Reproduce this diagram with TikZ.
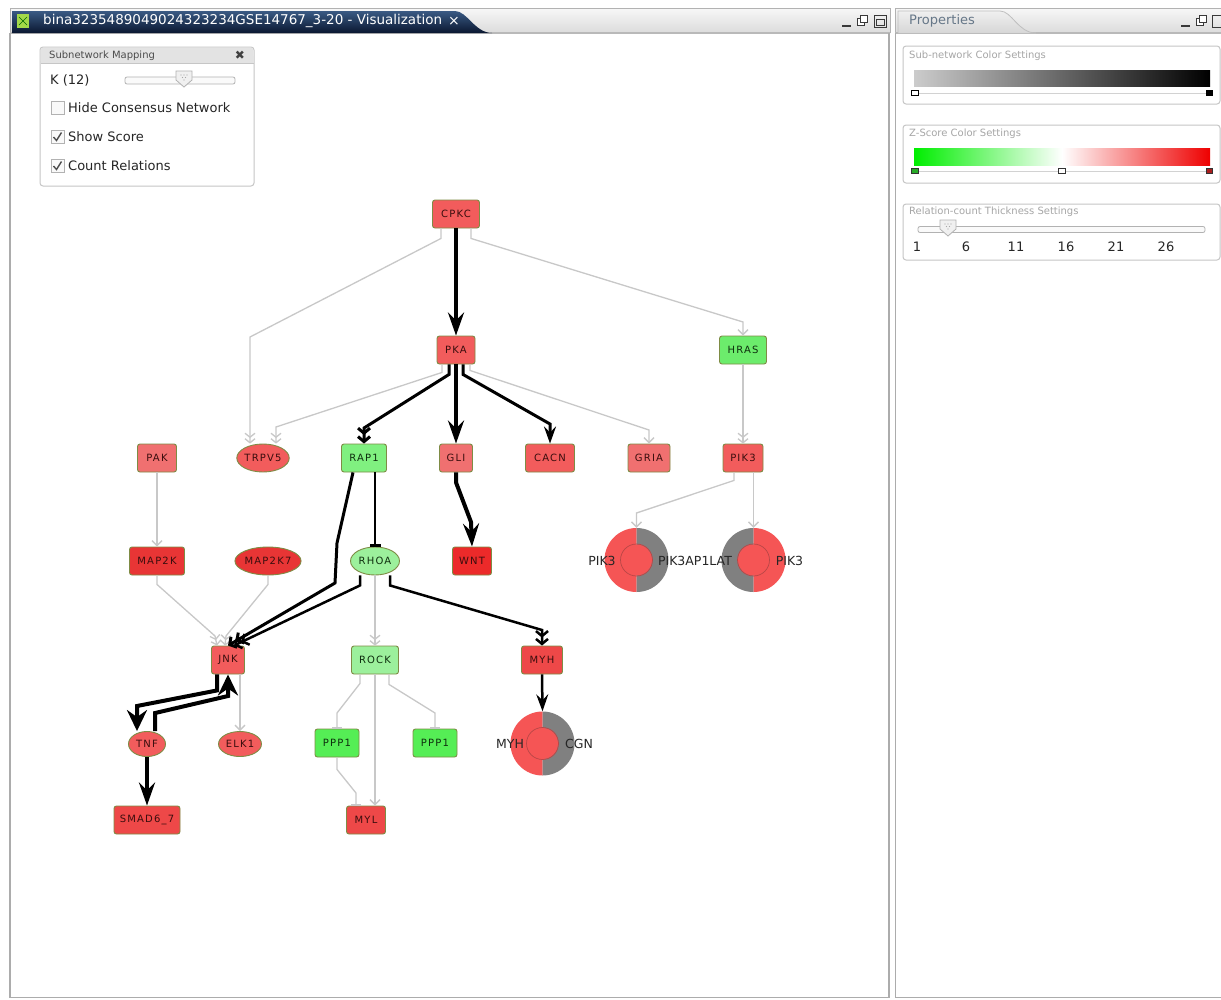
\documentclass[tikz,border=0pt]{standalone}
\usepackage{fontspec}
\setmainfont{DejaVu Sans}
\newfontfamily\nodefam[LetterSpace=12]{DejaVu Sans}
\usetikzlibrary{arrows.meta,shapes.geometric}
\definecolor{nred}{HTML}{F25C5C}
\definecolor{nlred}{HTML}{F07070}
\definecolor{nbred}{HTML}{E83535}
\definecolor{nsred}{HTML}{EE4848}
\definecolor{nwred}{HTML}{EC2A2A}
\definecolor{ngreen}{HTML}{6CEC6C}
\definecolor{nrgreen}{HTML}{80F080}
\definecolor{nlgreen}{HTML}{9CF09C}
\definecolor{nbgreen}{HTML}{55EE55}
\definecolor{nborder}{HTML}{7E8C45}
\definecolor{ntext}{HTML}{3A0E0E}
\definecolor{gtext}{HTML}{0E2E0E}
\definecolor{gline}{HTML}{C8C8C8}
\definecolor{cgray}{HTML}{808080}
\definecolor{cred}{HTML}{F55555}
\definecolor{tabtop}{HTML}{3A5A84}
\definecolor{tabbot}{HTML}{0A1730}
\definecolor{proptext}{HTML}{667788}
\newcommand\cplx[5]{%
  \node[circle, minimum size=64pt, inner sep=0pt] (#1) at (#2,#3) {};
  \begin{scope}\clip (#2-33,#3-33) rectangle (#2,#3+33);
    \fill[#4] (#1.center) circle[radius=32pt];\end{scope}
  \begin{scope}\clip (#2,#3-33) rectangle (#2+33,#3+33);
    \fill[#5] (#1.center) circle[radius=32pt];\end{scope}
  \fill[cred] (#1.center) circle[radius=15.5pt];
  \draw[gray!55!red, line width=0.7pt] (#1.center) circle[radius=16pt];
}
\newcommand\shield[2]{%
  \draw[fill=gray!12, draw=gray!60, line width=0.8pt] (#1-8,#2-8) -- (#1+8,#2-8) -- (#1+8,#2+1) -- (#1,#2+8) -- (#1-8,#2+1) -- cycle;
  \foreach \dx/\dy in {-3/-4,0/-4,3/-4,-1.5/-1.5,1.5/-1.5,0/1}{\fill[gray!70] (#1+\dx,#2+\dy) circle[radius=0.6pt];}
}
\tikzset{
  gchev/.tip={Straight Barb[length=5pt,width=10pt]},
  gdchev/.tip={Straight Barb[length=4pt,width=10pt] Straight Barb[length=4pt,width=10pt]},
  gbar/.tip={Bar[width=10pt]},
  bstl/.tip={Stealth[length=23pt,width=16pt,inset=8pt]},
  tstl/.tip={Stealth[length=21pt,width=20pt,inset=7pt]},
  mstl/.tip={Stealth[length=17pt,width=12pt,inset=6pt]},
  bdchev/.tip={Straight Barb[length=5pt,width=12pt] Straight Barb[length=5pt,width=12pt]},
  bbar/.tip={Bar[width=11pt]},
  nd/.style={rectangle, rounded corners=2.5pt, draw=nborder, line width=0.9pt,
    minimum height=28pt, inner sep=0pt, text=ntext,
    font=\nodefam\fontsize{10}{11}\selectfont},
  el/.style={ellipse, draw=nborder, line width=0.9pt, minimum height=28pt,
    inner sep=0pt, text=ntext, font=\nodefam\fontsize{10}{11}\selectfont},
  gn/.style={text=gtext},
  gedge/.style={draw=gline, line width=1.3pt},
  bedge/.style={draw=black, line width=#1},
  clabel/.style={font=\fontsize{12.5}{13}\selectfont, text=black!85, inner sep=0pt},
  ptext/.style={font=\fontsize{13}{14}\selectfont, text=black!85, inner sep=0pt, anchor=west},
  cbox/.style={rectangle, draw=gray!60, fill=gray!5, minimum size=13pt, inner sep=0pt, line width=0.8pt},
  plabel/.style={font=\fontsize{10}{11}\selectfont, text=gray!70, inner sep=0pt, anchor=west},
  panel/.style={draw=gray!45, line width=1pt, rounded corners=3pt, fill=white},
}
\begin{document}
\begin{tikzpicture}[x=1pt,y=-1pt]
\useasboundingbox (0,0) rectangle (1221,999);
\fill[white] (0,0) rectangle (1221,999);

% ---------- window chrome ----------
\shade[top color=gray!6, bottom color=gray!28] (10,8) rectangle (890,33);
\draw[gray!60, line width=1pt] (10,33) -- (10,8) -- (890,8) -- (890,33);
\draw[gray!55, line width=1.2pt] (10,33) -- (890,33);
\shade[top color=tabtop, bottom color=tabbot] (12,33) -- (12,11) -- (455,11) .. controls (467,11) and (475,33) .. (492,33) -- cycle;
\fill[yellow!55!green!80!white] (17,14) rectangle (29,28);
\draw[green!40!black, line width=0.6pt] (19,17) -- (27,25) (19,25) -- (27,17);
\node[anchor=west, text=white, inner sep=0pt, font=\fontsize{13.5}{14}\selectfont] (title) at (43,21) {bina3235489049024323234GSE14767\_3-20 - Visualization};
\node[text=white, inner sep=0pt, font=\fontsize{14}{14}\selectfont] (titlex) at (454,21) {×};
% window buttons left
\draw[gray!45!black, line width=1.2pt] (842,26) -- (851,26);
\draw[gray!45!black, line width=0.8pt, fill=white] (857,18) rectangle (864,25);
\draw[gray!45!black, line width=0.8pt, fill=white] (860,15) rectangle (867,22);
\draw[gray!45!black, line width=0.9pt] (874,15) rectangle (886,27);
\draw[gray!45!black, line width=0.6pt] (876,19) rectangle (884,25);
% left body
\draw[gray!65, line width=1.5pt] (10,33) -- (10,997.5) -- (889,997.5) -- (889,33);

% right window
\shade[top color=gray!6, bottom color=gray!28] (895,8) rectangle (1221,33);
\draw[gray!60, line width=1pt] (895,33) -- (895,8) -- (1221,8);
\draw[gray!55, line width=1.2pt] (895,33) -- (1221,33);
\shade[top color=gray!12, bottom color=gray!32] (898,33) -- (898,11) -- (1000,11) .. controls (1012,11) and (1018,33) .. (1036,33) -- cycle;
\draw[gray!50, line width=0.8pt] (898,33) -- (898,11) -- (1000,11) .. controls (1012,11) and (1018,33) .. (1036,33);
\node[anchor=west, text=proptext, inner sep=0pt, font=\fontsize{13}{14}\selectfont] (proptab) at (909,21) {Properties};
\draw[gray!45!black, line width=1.2pt] (1181,26) -- (1190,26);
\draw[gray!45!black, line width=0.8pt, fill=white] (1196,18) rectangle (1203,25);
\draw[gray!45!black, line width=0.8pt, fill=white] (1199,15) rectangle (1206,22);
\draw[gray!45!black, line width=0.9pt] (1212,15) rectangle (1224,27);
\draw[gray!65, line width=1.5pt] (895.5,33) -- (895.5,997.5) -- (1221,997.5);

% ---------- Subnetwork Mapping panel ----------
\draw[panel] (40,47) rectangle (254,186);
\fill[gray!22, rounded corners=3pt] (40.5,47.5) rectangle (253.5,63);
\fill[gray!22] (40.5,56) rectangle (253.5,63);
\draw[gray!45, line width=0.8pt] (40.5,63) -- (253.5,63);
\node[anchor=west, inner sep=0pt, text=black!70, font=\fontsize{10}{11}\selectfont] (smtitle) at (49,55.5) {Subnetwork Mapping};
\node[inner sep=0pt, text=black!75, font=\fontsize{12}{12}\selectfont] (smclose) at (240,55.5) {✖};
\node[ptext] (klabel) at (50,80) {K (12)};
\draw[gray!60, fill=gray!4, line width=0.8pt, rounded corners=2pt] (125,77) rectangle (235,84);
\shield{184}{79}
\node[cbox] (cb1) at (57.5,108) {};
\node[ptext] (cbt1) at (68,108) {Hide Consensus Network};
\node[cbox] (cb2) at (57.5,137) {};
\node[ptext] (cbt2) at (68,137) {Show Score};
\draw[line width=1.4pt, black!70] (53.5,137) -- (56.5,140.5) -- (61.5,132.5);
\node[cbox] (cb3) at (57.5,166) {};
\node[ptext] (cbt3) at (68,166) {Count Relations};
\draw[line width=1.4pt, black!70] (53.5,166) -- (56.5,169.5) -- (61.5,161.5);

% ---------- Properties panels ----------
\draw[panel] (903,46) rectangle (1220,104);
\node[plabel] (p1l) at (909,56) {Sub-network Color Settings};
\shade[left color=gray!40, right color=black] (914,70) rectangle (1210,86);
\draw[gray!35, line width=0.8pt] (914,93) -- (1210,93);
\draw[black, fill=white, line width=0.8pt] (911.5,90.5) rectangle (918,95.5);
\draw[black, fill=black, line width=0.8pt] (1206,90.5) rectangle (1212.5,95.5);

\draw[panel] (903,125) rectangle (1220,183);
\node[plabel] (p2l) at (909,134) {Z-Score Color Settings};
\shade[left color={rgb,255:red,0;green,238;blue,0}, right color=white] (914,148) rectangle (1062,165);
\shade[left color=white, right color={rgb,255:red,238;green,0;blue,0}] (1062,148) rectangle (1210,165);
\draw[gray!35, line width=0.8pt] (914,171) -- (1210,171);
\draw[black!80, fill={rgb,255:red,40;green,170;blue,40}, line width=0.8pt] (911.5,168.5) rectangle (918,173.5);
\draw[black!80, fill=white, line width=0.8pt] (1058.5,168.5) rectangle (1065,173.5);
\draw[black!80, fill={rgb,255:red,170;green,30;blue,30}, line width=0.8pt] (1206,168.5) rectangle (1212.5,173.5);

\draw[panel] (903,204) rectangle (1220,260);
\node[plabel] (p3l) at (909,212) {Relation-count Thickness Settings};
\draw[gray!60, fill=gray!4, line width=0.8pt, rounded corners=2pt] (918,226.5) rectangle (1205,232.5);
\shield{948}{228}
\foreach \xx/\tt/\nn in {917/1/a,966/6/b,1016/11/c,1066/16/d,1116/21/e,1166/26/f}{
  \node[inner sep=0pt, text=black!85, font=\fontsize{13}{14}\selectfont] (tick\nn) at (\xx,247) {\tt};
}

% ---------- nodes ----------
\node[nd, fill=nred, minimum width=47pt] (cpkc) at (456,214) {CPKC};
\node[nd, fill=nred, minimum width=38pt] (pka) at (456,350) {PKA};
\node[nd, gn, fill=ngreen, minimum width=47pt] (hras) at (743,350) {HRAS};
\node[nd, fill=nlred, minimum width=39pt] (pak) at (157,458) {PAK};
\node[el, fill=nred, minimum width=50pt] (trpv5) at (263,458) {TRPV5};
\node[nd, gn, fill=nrgreen, minimum width=45pt] (rap1) at (364,458) {RAP1};
\node[nd, fill=nlred, minimum width=33pt] (gli) at (456,458) {GLI};
\node[nd, fill=nred, minimum width=49pt] (cacn) at (550,458) {CACN};
\node[nd, fill=nlred, minimum width=42pt] (gria) at (649,458) {GRIA};
\node[nd, fill=nred, minimum width=40pt] (pik3) at (743,458) {PIK3};
\node[nd, fill=nbred, minimum width=55pt] (map2k) at (157,561) {MAP2K};
\node[el, fill=nbred, minimum width=60pt] (map2k7) at (268,561) {MAP2K7};
\node[el, gn, fill=nlgreen, minimum width=49pt] (rhoa) at (375,561) {RHOA};
\node[nd, fill=nwred, minimum width=39pt] (wnt) at (472,561) {WNT};
\node[nd, fill=nred, minimum width=33pt] (jnk) at (228,660) {JNK};
\node[nd, gn, fill=nlgreen, minimum width=47pt] (rock) at (375,660) {ROCK};
\node[nd, fill=nsred, minimum width=41pt] (myh) at (542,660) {MYH};
\node[el, fill=nred, minimum width=37pt, minimum height=25pt] (tnf) at (147,744) {TNF};
\node[el, fill=nred, minimum width=43pt, minimum height=25pt] (elk1) at (240,744) {ELK1};
\node[nd, gn, fill=nbgreen, minimum width=44pt] (ppp1a) at (337,743) {PPP1};
\node[nd, gn, fill=nbgreen, minimum width=44pt] (ppp1b) at (435,743) {PPP1};
\node[nd, fill=nsred, minimum width=66pt] (smad) at (147,820) {SMAD6\_7};
\node[nd, fill=nsred, minimum width=39pt] (myl) at (366,820) {MYL};

\cplx{cx1}{636.5}{560}{cred}{cgray}
\cplx{cx2}{753.5}{560}{cgray}{cred}
\cplx{cx3}{542.5}{743.5}{cred}{cgray}
\node[clabel] (l1) at (602,561) {PIK3};
\node[clabel] (l2) at (695,561) {PIK3AP1LAT};
\node[clabel] (l3) at (789.5,561) {PIK3};
\node[clabel] (l4) at (510,744) {MYH};
\node[clabel] (l5) at (579,744) {CGN};

% ---------- gray edges ----------
\draw[gedge, -gdchev] ([xshift=-15pt]cpkc.south) -- ++(0,10) -- (250,337) -- ([xshift=-13pt]trpv5.north);
\draw[gedge, -gdchev] ([xshift=-14pt]pka.south) -- ++(0,8) -- (276,427) -- ([xshift=13pt]trpv5.north);
\draw[gedge, -gchev] ([xshift=15pt]cpkc.south) -- ++(0,10) -- (743,322) -- (hras.north);
\draw[gedge, -gchev] ([xshift=14pt]pka.south) -- ++(0,6) -- (649,430) -- (gria.north);
\draw[gedge, -gdchev] (hras.south) -- (pik3.north);
\draw[gedge, -gchev] ([xshift=-9pt]pik3.south) -- ++(0,8) -- (636.5,513) -- (cx1.north);
\draw[gedge, -gchev] ([xshift=10.5pt]pik3.south) -- (cx2.north);
\draw[gedge, -gchev] (pak.south) -- (map2k.north);
\draw[gedge, -gdchev] (map2k.south) -- ++(0,9) -- (215,636) -- ([xshift=-11pt]jnk.north);
\draw[gedge, -gdchev] (map2k7.south) -- ++(0,9) -- (226,636) -- ([xshift=-3pt]jnk.north);
\draw[gedge, -gdchev] (rhoa.south) -- (rock.north);
\draw[gedge, -gchev] ([xshift=12pt]jnk.south) -- (elk1.north);
\draw[gedge, -gbar] ([xshift=-15pt]rock.south) -- ++(0,9) -- (337,713) -- (ppp1a.north);
\draw[gedge, -gbar] ([xshift=14pt]rock.south) -- ++(0,10) -- (435,713) -- (ppp1b.north);
\draw[gedge, -gchev] (rock.south) -- ([xshift=9pt]myl.north);
\draw[gedge, -gbar] (ppp1a.south) -- ++(0,12) -- (356,793) -- ([xshift=-10pt]myl.north);

% ---------- black edges ----------
\draw[bedge=4pt, -bstl] (cpkc.south) -- (pka.north);
\draw[bedge=3pt, -bdchev] ([xshift=-7pt]pka.south) -- ++(0,10) -- (364,428) -- (rap1.north);
\draw[bedge=4pt, -bstl] (pka.south) -- (gli.north);
\draw[bedge=3pt, -mstl] ([xshift=7pt]pka.south) -- ++(0,10) -- (550,424) -- (cacn.north);
\draw[bedge=4pt, -bstl] (gli.south) -- ++(0,10) -- (471,522) -- (wnt.north);
\draw[bedge=2.5pt, -bbar] ([xshift=11pt]rap1.south) -- (rhoa.north);
\draw[bedge=3pt, -bdchev] ([xshift=-11pt]rap1.south) -- (337,543) -- (335,583) -- ([xshift=0pt]jnk.north);
\draw[bedge=2.5pt, -bdchev] ([xshift=-15pt]rhoa.south) -- ++(0,10) -- ([xshift=6pt]jnk.north);
\draw[bedge=2.5pt, -bdchev] ([xshift=15pt]rhoa.south) -- ++(0,10) -- (542,630) -- (myh.north);
\draw[bedge=2.5pt, -mstl] (myh.south) -- (cx3.north);
\draw[bedge=4pt, -tstl] ([xshift=-11pt]jnk.south) -- ++(0,16) -- (137,706) -- ([xshift=-10pt]tnf.north);
\draw[bedge=4pt, -tstl] ([xshift=8pt]tnf.north) -- ++(0,-18) -- (228,696) -- (jnk.south);
\draw[bedge=4pt, -bstl] (tnf.south) -- (smad.north);
\end{tikzpicture}
\end{document}
